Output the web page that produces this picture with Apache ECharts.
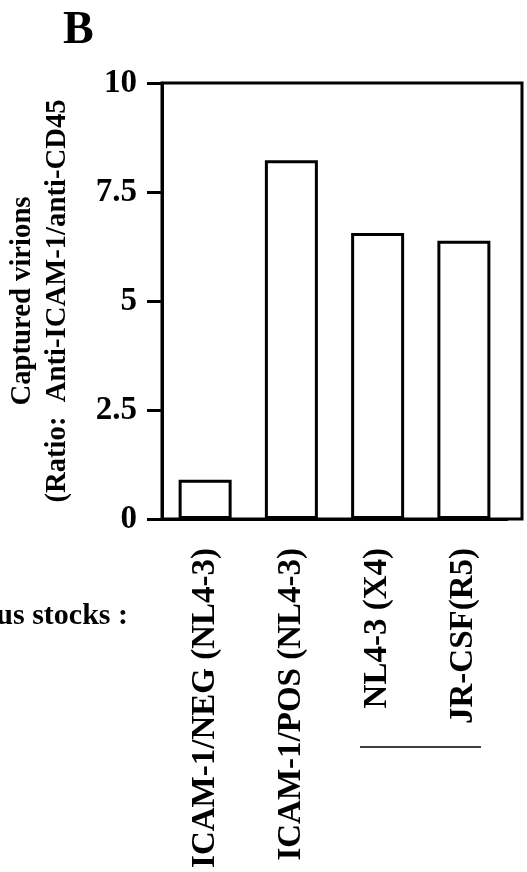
<!DOCTYPE html>
<html>
<head>
<meta charset="utf-8">
<style>html,body{margin:0;padding:0;background:#fff;}#c{width:527px;height:872px;}</style>
<script src="https://cdn.jsdelivr.net/npm/echarts@6/dist/echarts.min.js"></script>
</head>
<body>
<div id="c"></div>
<script>
const categories = ['ICAM-1/NEG (NL4-3)', 'ICAM-1/POS (NL4-3)', 'NL4-3 (X4)', 'JR-CSF(R5)'];
const ratioValues = [0.9, 8.23, 6.56, 6.38];
const yTicks = { min: 0, max: 10, interval: 2.5 };
const panelLabel = 'B';
const yNameLines = ['Captured virions', '(Ratio:  Anti-ICAM-1/anti-CD45'];
const groupLabel = 'Virus stocks :';

const FONT = '"Liberation Serif", "Times New Roman", serif';
const chart = echarts.init(document.getElementById('c'), null, { renderer: 'canvas' });
chart.setOption({
  backgroundColor: '#fff',
  animation: false,
  title: {
    text: panelLabel, left: 58, top: 3,
    textStyle: { fontFamily: FONT, fontWeight: 'bold', fontSize: 46, color: '#000' }
  },
  grid: [
    { left: 162, right: 20, top: 83, bottom: 353, containLabel: false, outerBoundsMode: 'none' },
    { left: 162, right: 5, top: 83, bottom: 353, containLabel: false, outerBoundsMode: 'none', show: true, borderColor: '#000', borderWidth: 3, backgroundColor: 'transparent' }
  ],
  xAxis: [
    {
      type: 'category', gridIndex: 0, data: categories,
      axisLine: { lineStyle: { color: '#000', width: 3 } },
      axisTick: { show: false },
      axisLabel: { rotate: 90, margin: 29, interval: 0, color: '#000', fontFamily: FONT, fontWeight: 'bold', fontSize: 33 }
    },
    { type: 'value', gridIndex: 1, show: false }
  ],
  yAxis: [
    {
      type: 'value', gridIndex: 0, min: yTicks.min, max: yTicks.max, interval: yTicks.interval,
      name: yNameLines.join('\n'), nameLocation: 'middle', nameGap: 87,
      nameTextStyle: { fontFamily: FONT, fontWeight: 'bold', fontSize: 28.7, lineHeight: 35, color: '#000' },
      axisLine: { show: true, lineStyle: { color: '#000', width: 3 } },
      axisTick: { show: true, length: 15, lineStyle: { color: '#000', width: 3 } },
      splitLine: { show: false },
      axisLabel: { margin: 25, color: '#000', fontFamily: FONT, fontWeight: 'bold', fontSize: 33 }
    },
    { type: 'value', gridIndex: 1, show: false }
  ],
  series: [{
    type: 'bar', xAxisIndex: 0, yAxisIndex: 0, data: ratioValues, barWidth: 53,
    itemStyle: { color: '#fff', borderColor: '#000', borderWidth: 3 }
  }],
  graphic: [
    { type: 'text', right: 527 - 128, top: 601,
      style: { text: groupLabel, fontFamily: FONT, fontWeight: 'bold', fontSize: 30, fill: '#000', textAlign: 'right' } },
    { type: 'line', shape: { x1: 360, y1: 747, x2: 481, y2: 747 }, style: { stroke: '#000', lineWidth: 1.5 } }
  ]
});
</script>
</body>
</html>
